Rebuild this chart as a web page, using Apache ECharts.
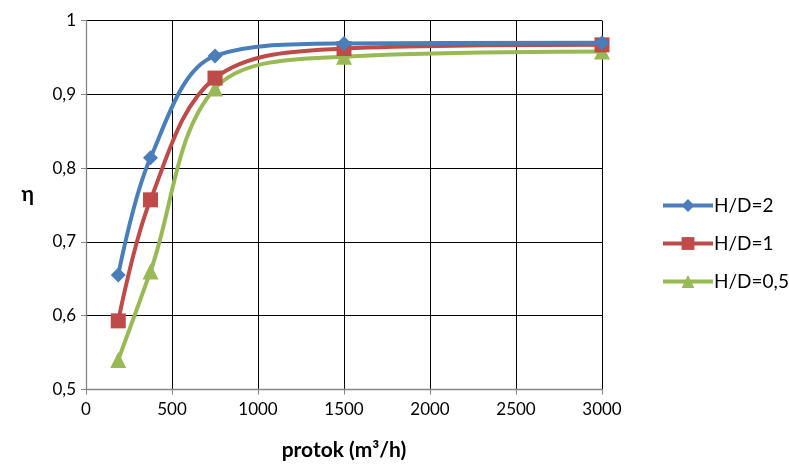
<!DOCTYPE html>
<html><head><meta charset="utf-8">
<script src="https://cdn.jsdelivr.net/npm/echarts@6/dist/echarts.min.js"></script>
<style>html,body{margin:0;padding:0;background:#fff}#c{width:789px;height:466px}</style>
</head><body><div id="c"></div>
<script>
const flows = [187.5, 375, 750, 1500, 3000];
const hd2 = [0.655, 0.814, 0.952, 0.969, 0.970];
const hd1 = [0.593, 0.757, 0.922, 0.962, 0.967];
const hd05 = [0.540, 0.660, 0.908, 0.951, 0.958];
const seriesNames = ['H/D=2', 'H/D=1', 'H/D=0,5'];
const xTitle = 'protok (m³/h)';
const yTitle = 'η';

const font = 'Lato, "Open Sans", sans-serif';
const colors = ['#4a7ebb', '#be4b48', '#98b954'];
const symbols = ['diamond', 'rect', 'triangle'];
const sizes = [15, 15, 16];
const pair = arr => flows.map((x, i) => [x, arr[i]]);
const chart = echarts.init(document.getElementById('c'));
chart.setOption({
  animation: false,
  grid: {left: 86, right: 187, top: 20.5, bottom: 76.5},
  legend: {
    orient: 'vertical', left: 656, top: 191, itemGap: 19,
    itemWidth: 50, itemHeight: 16,
    lineStyle: {width: 4},
    textStyle: {fontFamily: font, fontSize: 19, color: '#000', padding: [0, 0, 0, -4]},
    data: seriesNames
  },
  xAxis: {
    type: 'value', min: 0, max: 3000, interval: 500,
    name: xTitle, nameLocation: 'middle', nameGap: 50,
    nameTextStyle: {fontFamily: font, fontSize: 21, fontWeight: 'bold', color: '#000'},
    axisLine: {show: true, lineStyle: {color: '#868686', width: 1.3}},
    axisTick: {show: true, length: 5, lineStyle: {color: '#868686'}},
    axisLabel: {fontFamily: font, fontSize: 17, color: '#000', margin: 12,
      formatter: v => String(v)},
    splitLine: {show: true, lineStyle: {color: '#000', width: 1}}
  },
  yAxis: {
    type: 'value', min: 0.5, max: 1, interval: 0.1,
    name: yTitle, nameLocation: 'middle', nameGap: 52, nameRotate: 0,
    nameTextStyle: {fontFamily: font, fontSize: 21, fontWeight: 'bold', color: '#000', verticalAlign: 'bottom'},
    axisLine: {show: true, lineStyle: {color: '#868686', width: 1.3}},
    axisTick: {show: true, length: 5, lineStyle: {color: '#868686'}},
    axisLabel: {fontFamily: font, fontSize: 17, color: '#000', margin: 10,
      formatter: v => (Math.round(v * 10) / 10).toString().replace('.', ',')},
    splitLine: {show: true, lineStyle: {color: '#000', width: 1}}
  },
  series: [hd2, hd1, hd05].map((d, i) => ({
    name: seriesNames[i], type: 'line', data: pair(d), smooth: 0.35,
    symbol: symbols[i], symbolSize: sizes[i],
    lineStyle: {color: colors[i], width: 4},
    itemStyle: {color: colors[i]},
    z: 3 - i
  }))
});
</script></body></html>
